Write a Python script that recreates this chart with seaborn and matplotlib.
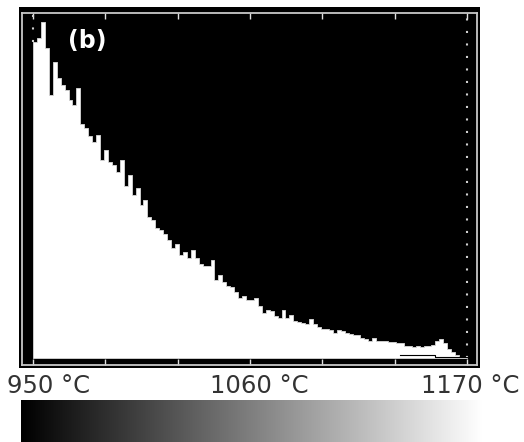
import numpy as np
import pandas as pd
import seaborn as sns
import matplotlib.pyplot as plt
from matplotlib.patches import Rectangle

# histogram: 2 degC bins from 950 to 1170 degC
bin_left = np.arange(950, 1170, 2)
counts = [316, 320, 336, 310, 263, 296, 280, 273, 268, 258,
          253, 270, 234, 230, 222, 216, 223, 198, 208, 196,
          193, 186, 198, 172, 183, 163, 170, 153, 158, 141,
          138, 130, 128, 124, 118, 110, 114, 103, 106, 100,
          108, 100, 94, 92, 92, 98, 78, 83, 76, 72,
          71, 66, 60, 62, 58, 58, 60, 52, 45, 48,
          47, 42, 40, 48, 40, 43, 37, 36, 35, 34,
          39, 34, 31, 29, 29, 28, 25, 28, 27, 25,
          24, 23, 23, 20, 19, 17, 20, 17, 17, 17,
          16, 16, 15, 15, 12, 12, 11, 12, 11, 12,
          12, 13, 17, 19, 15, 9, 6, 3, 1, 1]
# faint second trace near the baseline at the hot end
low_left = np.arange(1136, 1170, 2)
low_counts = [3, 3, 3, 3, 3, 3, 3, 3, 3, 1, 1, 1, 1, 1, 1, 1, 1]

tick_labels = ["950 °C", "1060 °C", "1170 °C"]
label_px = [7, 210, 421]

df = pd.DataFrame({"T": bin_left + 1.0, "n": counts})
df_low = pd.DataFrame({"T": low_left + 1.0, "n": low_counts})

W, H = 524, 442
fig = plt.figure(figsize=(W / 100, H / 100), dpi=100)

# black outer panel
fig.patches.append(Rectangle((19 / W, (H - 368) / H), 461 / W, 361 / H,
                             transform=fig.transFigure, facecolor="black",
                             edgecolor="none", zorder=-5))

ax = fig.add_axes([22 / W, (H - 365) / H, 455 / W, 352 / H])
ax.set_facecolor("black")

sns.histplot(data=df, x="T", weights="n", binwidth=2, binrange=(950, 1170),
             element="step", fill=True, color="white", alpha=1,
             linewidth=0.6, edgecolor="#d8d8d8", ax=ax, zorder=3)
sns.histplot(data=df_low, x="T", weights="n", binwidth=2,
             binrange=(1136, 1170), element="step", fill=False,
             color="black", linewidth=0.8, ax=ax, zorder=4)

# dotted range markers
ax.vlines(950, counts[0], 345, color="#d0d0d0", lw=1.5, ls=(0, (1, 5)),
          zorder=2)
ax.vlines(1170, 0, 345, color="#d0d0d0", lw=1.5, ls=(0, (1, 5)), zorder=2)

ax.set_xlim(944.4, 1175.1)
ax.set_ylim(-7, 345)
ax.set_xticks(np.linspace(950, 1170, 7))
ax.set_yticks([])
ax.tick_params(axis="x", direction="in", top=True, bottom=True, length=4,
               width=1, color="#e0e0e0", labelbottom=False)
ax.set_xlabel("")
ax.set_ylabel("")
for s in ax.spines.values():
    s.set_color("#c8c8c8")
    s.set_linewidth(1.3)

ax.text(0.1, 0.92, "(b)", transform=ax.transAxes, color="white",
        fontsize=17, fontweight="bold", va="center", ha="left", zorder=6)

for lab, px in zip(tick_labels, label_px):
    fig.text(px / W, 1 - 386 / H, lab, ha="left", va="center",
             fontsize=17.5, color="#333333")

# grey scale bar under the axis
cax = fig.add_axes([21 / W, 0, 462 / W, 42 / H])
cax.imshow(np.linspace(0, 1, 256)[None, :], aspect="auto", cmap="gray",
           extent=[0, 1, 0, 1])
cax.set_axis_off()

fig.savefig("out.png", dpi=100)
